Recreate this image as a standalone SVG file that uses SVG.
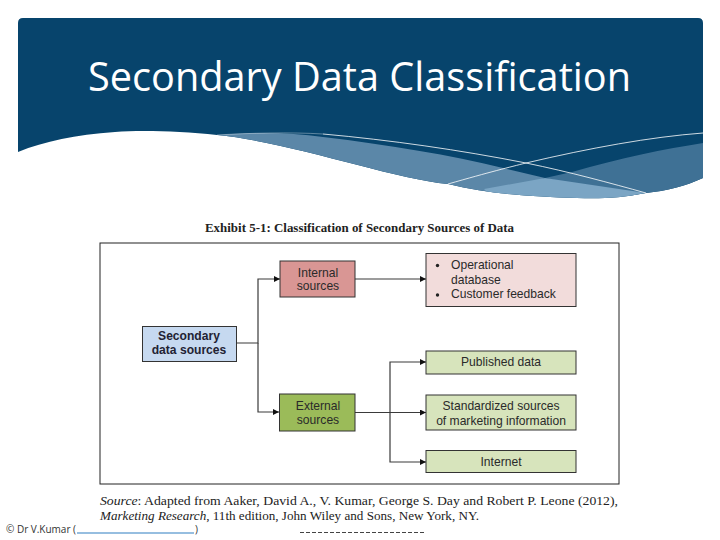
<svg xmlns="http://www.w3.org/2000/svg" width="720" height="540" viewBox="0 0 720 540">
<defs>
<style>
.box{stroke:#333;stroke-width:1}
.lbl{font-family:"Liberation Sans",Arial,sans-serif;font-size:12.1px;fill:#2a2a2a;text-anchor:middle}
.src{font-family:"Liberation Serif","Times New Roman",serif;font-size:13px;fill:#222}
.con{fill:none;stroke:#3a3a3a;stroke-width:1.2}
</style>
<marker id="arr" markerUnits="userSpaceOnUse" markerWidth="7" markerHeight="7" refX="6" refY="3" orient="auto"><path d="M0,0L6,3L0,6Z" fill="#111"/></marker>
<clipPath id="bannerClip"><path d="M18,152V23Q18,18 23,18H698Q703,18 703,23V178C686,186 666,191 646,193C620,198 600,199 577,198C530,197 490,194 448,184C390,178 290,142 217,135C180,131 140,130 115,132C75,135 45,141 18,152Z"/></clipPath>
</defs>
<rect width="720" height="540" fill="#fff"/>
<g id="banner">
<path d="M18,152V23Q18,18 23,18H698Q703,18 703,23V178C686,186 666,191 646,193C620,198 600,199 577,198C530,197 490,194 448,184C390,178 290,142 217,135C180,131 140,130 115,132C75,135 45,141 18,152Z" fill="#07446c"/>
<g clip-path="url(#bannerClip)">
<path d="M217,135C250,132 290,132 323,137C390,145 450,155 503,168L545,178L484,200L300,170Z" fill="#5b87a8"/>
<path d="M545,178L572,172C620,158 665,149 703,143V200H646Z" fill="#3f7195"/>
<path d="M484,189L545,178L646,193L640,205H500Z" fill="#7ba5c4"/>
</g>
<path d="M323,134C390,140 460,150 526,163C570,172 610,183 646,193" fill="none" stroke="#fff" stroke-width="0.8"/>
<path d="M217,135C250,133 290,132 323,134" fill="none" stroke="#fff" stroke-width="0.5" opacity="0.7"/>
<path d="M448,184C490,172 510,167 526,163C590,148 650,137 703,133" fill="none" stroke="#fff" stroke-width="0.8"/>
<text x="359.500" y="91" font-family="'Open Sans','Noto Sans',sans-serif" font-size="41" font-weight="400" fill="#fff" text-anchor="middle" textLength="543" lengthAdjust="spacingAndGlyphs">Secondary Data Classification</text>
</g>
<text id="exhibit-title" x="205" y="232" font-family="'Liberation Serif','Times New Roman',serif" font-size="12" font-weight="700" fill="#222" textLength="309" lengthAdjust="spacingAndGlyphs">Exhibit 5-1: Classification of Secondary Sources of Data</text>
<rect id="frame" x="100" y="243" width="519" height="241" fill="#fff" stroke="#222" stroke-width="1"/>
<g id="connectors">
<path class="con" d="M237,343H258V279H280" marker-end="url(#arr)"/>
<path class="con" d="M258,343V412H279" marker-end="url(#arr)"/>
<path class="con" d="M355,279H426" marker-end="url(#arr)"/>
<path class="con" d="M355,412.500H426" marker-end="url(#arr)"/>
<path class="con" d="M390,412.500V362H426" marker-end="url(#arr)"/>
<path class="con" d="M390,412.500V462H426" marker-end="url(#arr)"/>
</g>
<g id="secondary">
<rect class="box" x="142.500" y="326.500" width="94" height="35" fill="#c6d9f0"/>
<text class="lbl" x="189" y="340" font-weight="700" style="fill:#223">Secondary</text>
<text class="lbl" x="189" y="354" font-weight="700" style="fill:#223">data sources</text>
</g>
<g id="internal">
<rect class="box" x="280" y="261" width="75" height="36" fill="#d99694"/>
<text class="lbl" x="318" y="277">Internal</text>
<text class="lbl" x="318" y="290">sources</text>
</g>
<g id="external">
<rect class="box" x="279.500" y="394" width="75.500" height="37" fill="#9bbb59"/>
<text class="lbl" x="318" y="410">External</text>
<text class="lbl" x="318" y="424">sources</text>
</g>
<g id="internal-list">
<rect class="box" x="426" y="253.500" width="150" height="53" fill="#f2dcdb"/>
<circle cx="437.500" cy="265.500" r="1.700" fill="#222"/>
<text class="lbl" x="451" y="269" style="text-anchor:start">Operational</text>
<text class="lbl" x="451" y="284" style="text-anchor:start">database</text>
<circle cx="437.500" cy="295" r="1.700" fill="#222"/>
<text class="lbl" x="451" y="298" style="text-anchor:start">Customer feedback</text>
</g>
<g id="published">
<rect class="box" x="426" y="351" width="150" height="23" fill="#d7e4bc"/>
<text class="lbl" x="501" y="366">Published data</text>
</g>
<g id="standardized">
<rect class="box" x="426" y="395" width="150" height="35" fill="#d7e4bc"/>
<text class="lbl" x="501" y="410">Standardized sources</text>
<text class="lbl" x="501" y="425">of marketing information</text>
</g>
<g id="internet">
<rect class="box" x="426" y="450.500" width="150" height="22" fill="#d7e4bc"/>
<text class="lbl" x="501" y="466">Internet</text>
</g>
<text class="src" x="100" y="505" textLength="518" lengthAdjust="spacingAndGlyphs"><tspan font-style="italic">Source</tspan>: Adapted from Aaker, David A., V. Kumar, George S. Day and Robert P. Leone (2012),</text>
<text class="src" x="100" y="520" textLength="379" lengthAdjust="spacingAndGlyphs"><tspan font-style="italic">Marketing Research</tspan>, 11th edition, John Wiley and Sons, New York, NY.</text>
<g id="footer">
<text x="6" y="533" font-family="'Open Sans',sans-serif" font-size="10" fill="#333" textLength="70" lengthAdjust="spacing">© Dr V.Kumar (</text>
<path d="M77,533H194" stroke="#2f7fc1" stroke-width="1.200"/>
<path d="M300,532.500H424" stroke="#444" stroke-width="1" stroke-dasharray="4 2"/>
<text x="195" y="533" font-family="'Open Sans',sans-serif" font-size="10" fill="#333">)</text>
</g>
</svg>
